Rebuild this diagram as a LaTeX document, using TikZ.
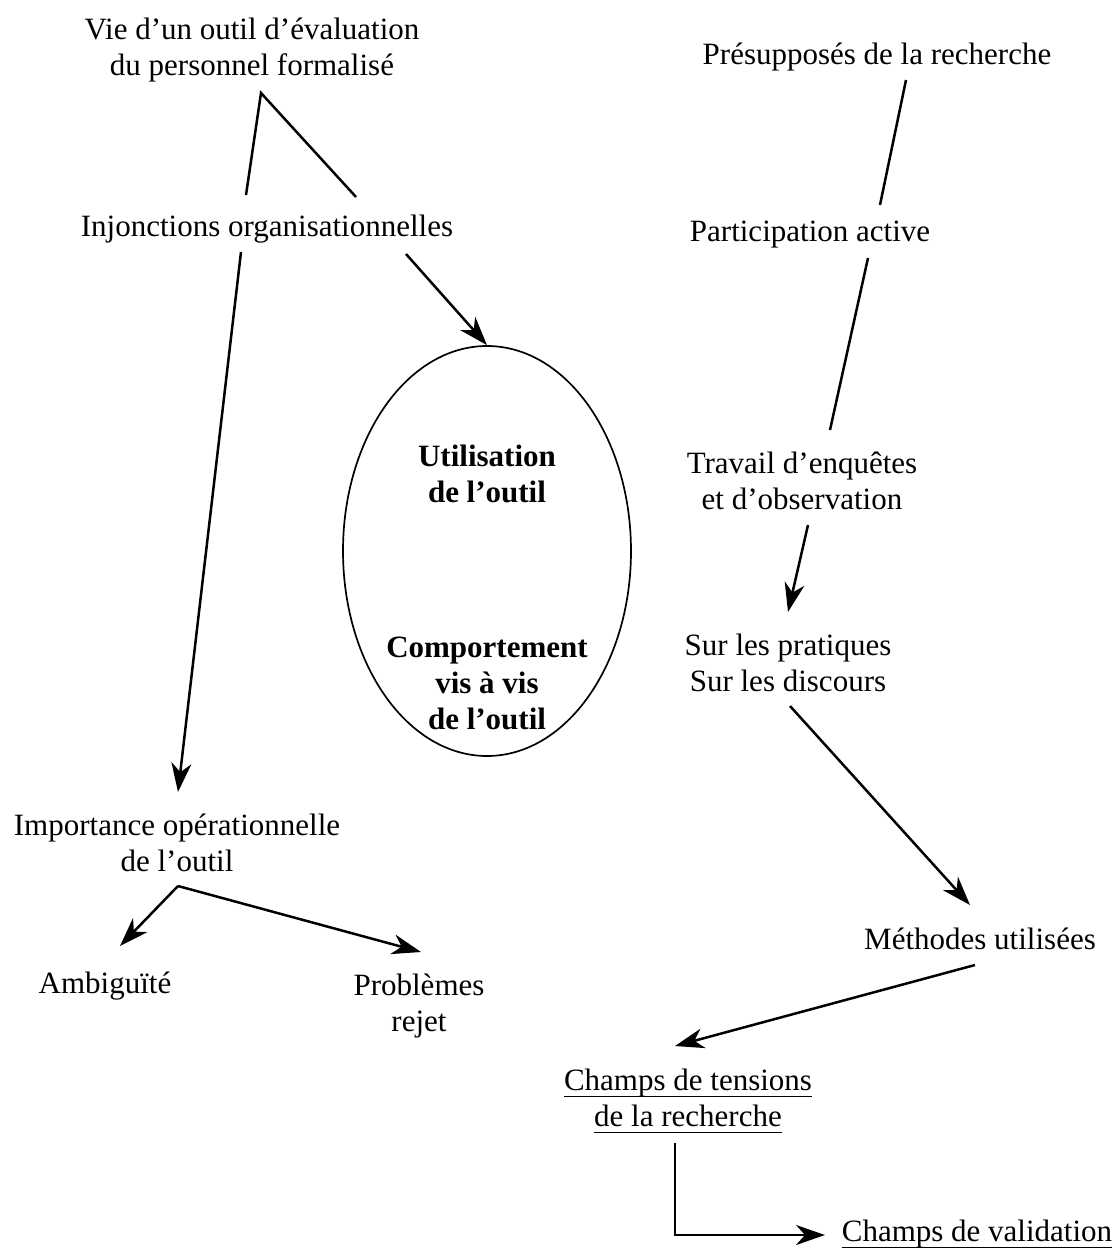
\documentclass[tikz,border=0pt]{standalone}
\usepackage{fontspec}
\setmainfont{Liberation Serif}
\usetikzlibrary{arrows.meta,shapes.geometric}
% underline at a fixed distance below the baseline
\newcommand\undl[1]{\leavevmode\vtop{\hbox{\raisebox{0pt}[\height][0pt]{#1}}\kern5pt\hrule height 1.3pt}}
\begin{document}
\begin{tikzpicture}[x=1pt,y=-1pt,
  lbl/.style={inner sep=0pt, align=center, font=\fontsize{31}{36}\selectfont},
  bl/.style={inner sep=0pt, align=center, font=\fontsize{31}{36}\selectfont\bfseries},
  ln/.style={line width=2.5pt},
  arr/.style={ln, -{Stealth[length=29pt,width=20pt,inset=9pt]}},
]
\useasboundingbox (0,0) rectangle (1117,1255);

% left branch
\node[lbl] (vie) at (252,50) {Vie d’un outil d’évaluation\\du personnel formalisé};
\node[lbl] (inj) at (267,229) {Injonctions organisationnelles};
\node[lbl] (imp) at (177,843) {Importance opérationnelle\\de l’outil};
\node[lbl] (amb) at (105,986) {Ambiguïté};
\node[lbl] (prob) at (419,1006) {Problèmes\\rejet};

% central ellipse
\node[draw, ellipse, line width=1.7pt, minimum width=288, minimum height=410] (ell) at (487,551) {};
\node[bl] (use) at (487,474) {Utilisation\\de l’outil};
\node[bl] (comp) at (487,683) {Comportement\\vis à vis\\de l’outil};

% right branch
\node[lbl] (pres) at (877,57) {Présupposés de la recherche};
\node[lbl] (part) at (810,235) {Participation active};
\node[lbl] (trav) at (802,481) {Travail d’enquêtes\\et d’observation};
\node[lbl] (sur) at (788,663) {Sur les pratiques\\Sur les discours};
\node[lbl] (meth) at (980,939) {Méthodes utilisées};
\node[lbl] (tens) at (688,1101) {\undl{Champs de tensions}\\\undl{de la recherche}};
\node[lbl] (val) at (977,1234) {\undl{Champs de validation}};

% connector end points
\coordinate (vieA) at (261,93);
\coordinate (injL) at (246,195);
\coordinate (injR) at (356,197);
\coordinate (injS) at (241,252);
\coordinate (injE) at (406,254);
\coordinate (impN) at (178,792);
\coordinate (impA) at (178,886);
\coordinate (ambN) at (120,946);
\coordinate (probN) at (421,952);
\coordinate (presS) at (906,80);
\coordinate (partN) at (880,205);
\coordinate (partS) at (868,258);
\coordinate (travN) at (830,430);
\coordinate (travS) at (808,525);
\coordinate (surN) at (788,612);
\coordinate (surS) at (790,706);
\coordinate (methN) at (970,905);
\coordinate (methS) at (975,965);
\coordinate (tensN) at (675,1046);
\coordinate (tensS) at (675,1143);
\coordinate (bend) at (675,1235);
\coordinate (valW) at (825,1235);

% connectors
\draw[ln] (injL) -- (vieA) -- (injR);
\draw[arr] (injE) -- (ell.north);
\draw[arr] (injS) -- (impN);
\draw[arr] (impA) -- (ambN);
\draw[arr] (impA) -- (probN);
\draw[ln] (presS) -- (partN);
\draw[ln] (partS) -- (travN);
\draw[arr] (travS) -- (surN);
\draw[arr] (surS) -- (methN);
\draw[arr] (methS) -- (tensN);
\draw[arr] (tensS) -- (bend) -- (valW);
\end{tikzpicture}
\end{document}
